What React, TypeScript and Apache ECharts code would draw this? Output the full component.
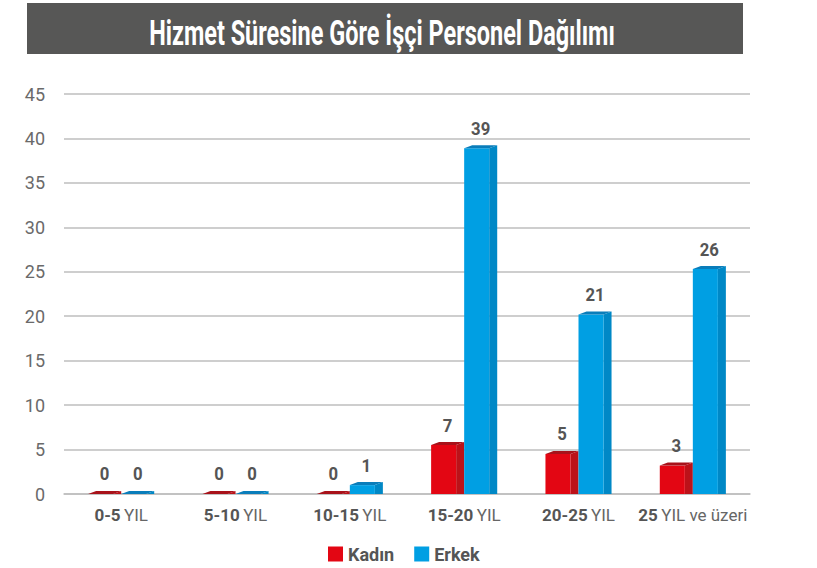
import React, { useEffect, useRef } from "react";
import * as echarts from "echarts";

const categories = ["0-5 YIL", "5-10 YIL", "10-15 YIL", "15-20 YIL", "20-25 YIL", "25 YIL ve üzeri"];
const kadinLabels = [0, 0, 0, 7, 5, 3];
const erkekLabels = [0, 0, 1, 39, 21, 26];
// bar heights as drawn in the picture
const kadinHeights = [0, 0, 0, 5.5, 4.5, 3.2];
const erkekHeights = [0, 0, 1, 38.9, 20.2, 25.3];
const yTicks = { min: 0, max: 45, interval: 5 };
const TITLE = "Hizmet Süresine Göre İşçi Personel Dağılımı";

const FONT = "Roboto, 'Noto Sans', sans-serif";
const TEXT_COLOR = "#555555";

const COLORS = {
  kadin: { front: "#E30613", side: "#BC1219", top: "#A8121A" },
  erkek: { front: "#009FE3", side: "#0088C6", top: "#0A7DBA" },
};

function measure(text: string, font: string): number {
  try {
    const ctx = document.createElement("canvas").getContext("2d")!;
    ctx.font = font;
    return ctx.measureText(text).width;
  } catch (e) {
    return 0;
  }
}

function makeRender(offsetFrac: number, c: { front: string; side: string; top: string }) {
  return (params: any, api: any) => {
    const ci = api.value(0);
    const v = api.value(1);
    const lab = api.value(2);
    const band = api.size([1, 0])[0];
    const front = band * 0.219;
    const side = band * 0.07;
    const depth = 3;
    const [cx, yTop] = api.coord([ci, v]);
    const [, y0] = api.coord([ci, 0]);
    const x0 = cx + band * offsetFrac;
    const x1 = x0 + front;
    const children: any[] = [];
    children.push({
      type: "polygon",
      shape: { points: [[x1, yTop], [x1 + side, yTop - depth], [x1 + side, y0], [x1, y0]] },
      style: { fill: c.side },
    });
    if (y0 - yTop > 0.5) {
      children.push({
        type: "rect",
        shape: { x: x0, y: yTop, width: front, height: y0 - yTop },
        style: { fill: c.front },
      });
    }
    children.push({
      type: "polygon",
      shape: { points: [[x0, yTop], [x0 + side, yTop - depth], [x1 + side, yTop - depth], [x1, yTop]] },
      style: { fill: c.top },
    });
    children.push({
      type: "text",
      x: x0 + (front + side) / 2,
      y: yTop - depth - 8,
      scaleX: 0.88,
      style: {
        text: String(lab),
        fill: TEXT_COLOR,
        fontFamily: FONT,
        fontWeight: "bold",
        fontSize: 19,
        textAlign: "center",
        align: "center",
        textVerticalAlign: "bottom",
        verticalAlign: "bottom",
      },
    });
    return { type: "group", children };
  };
}

export default function App() {
  const ref = useRef<HTMLDivElement>(null);
  useEffect(() => {
    document.body.style.margin = "0";
    const chart = echarts.init(ref.current!, null, { renderer: "svg" });
    const titleW = measure(TITLE, "bold 36px Roboto");
    const titleScale = titleW > 0 ? 466 / titleW : 0.62;
    chart.setOption({
      animation: false,
      backgroundColor: "#ffffff",
      graphic: [
        { type: "rect", shape: { x: 27, y: 3, width: 716, height: 51 }, style: { fill: "#575756" } },
        {
          type: "text",
          x: 382,
          y: 33,
          scaleX: titleScale,
          style: {
            text: TITLE,
            fill: "#ffffff",
            fontFamily: FONT,
            fontWeight: "bold",
            fontSize: 36,
            textAlign: "center",
            align: "center",
            textVerticalAlign: "middle",
            verticalAlign: "middle",
          },
        },
      ],
      grid: { left: 64, right: 67, top: 94, bottom: 74, containLabel: false },
      legend: {
        data: ["Kadın", "Erkek"],
        left: 323,
        top: 540,
        icon: "rect",
        itemWidth: 15,
        itemHeight: 15,
        itemGap: 20,
        selectedMode: false,
        textStyle: { fontFamily: FONT, fontWeight: "bold", fontSize: 18, color: TEXT_COLOR },
      },
      xAxis: {
        type: "category",
        data: categories,
        axisTick: { show: false },
        axisLine: { lineStyle: { color: "#BEBEBE", width: 1.5 } },
        axisLabel: {
          margin: 12,
          interval: 0,
          hideOverlap: false,
          formatter: (val: string) => {
            const i = val.indexOf(" ");
            return "{b|" + val.slice(0, i) + "} {r|" + val.slice(i + 1) + "}";
          },
          rich: {
            b: { fontFamily: FONT, fontWeight: "bold", fontSize: 17, color: TEXT_COLOR },
            r: { fontFamily: FONT, fontWeight: "normal", fontSize: 17, color: "#666666" },
          },
        },
      },
      yAxis: {
        type: "value",
        min: yTicks.min,
        max: yTicks.max,
        interval: yTicks.interval,
        axisLine: { show: false },
        axisTick: { show: false },
        axisLabel: { margin: 19, fontFamily: FONT, fontSize: 18, color: "#6a6a6a" },
        splitLine: { lineStyle: { color: "#BEBEBE", width: 1.5 } },
      },
      series: [
        {
          name: "Kadın",
          type: "custom",
          silent: true,
          itemStyle: { color: COLORS.kadin.front },
          renderItem: makeRender(-0.289, COLORS.kadin),
          data: categories.map((_, i) => [i, kadinHeights[i], kadinLabels[i]]),
          encode: { x: 0, y: 1 },
          clip: false,
        },
        {
          name: "Erkek",
          type: "custom",
          silent: true,
          itemStyle: { color: COLORS.erkek.front },
          renderItem: makeRender(0, COLORS.erkek),
          data: categories.map((_, i) => [i, erkekHeights[i], erkekLabels[i]]),
          encode: { x: 0, y: 1 },
          clip: false,
        },
      ],
    });
    return () => chart.dispose();
  }, []);
  return <div ref={ref} style={{ width: 817, height: 568 }} />;
}
